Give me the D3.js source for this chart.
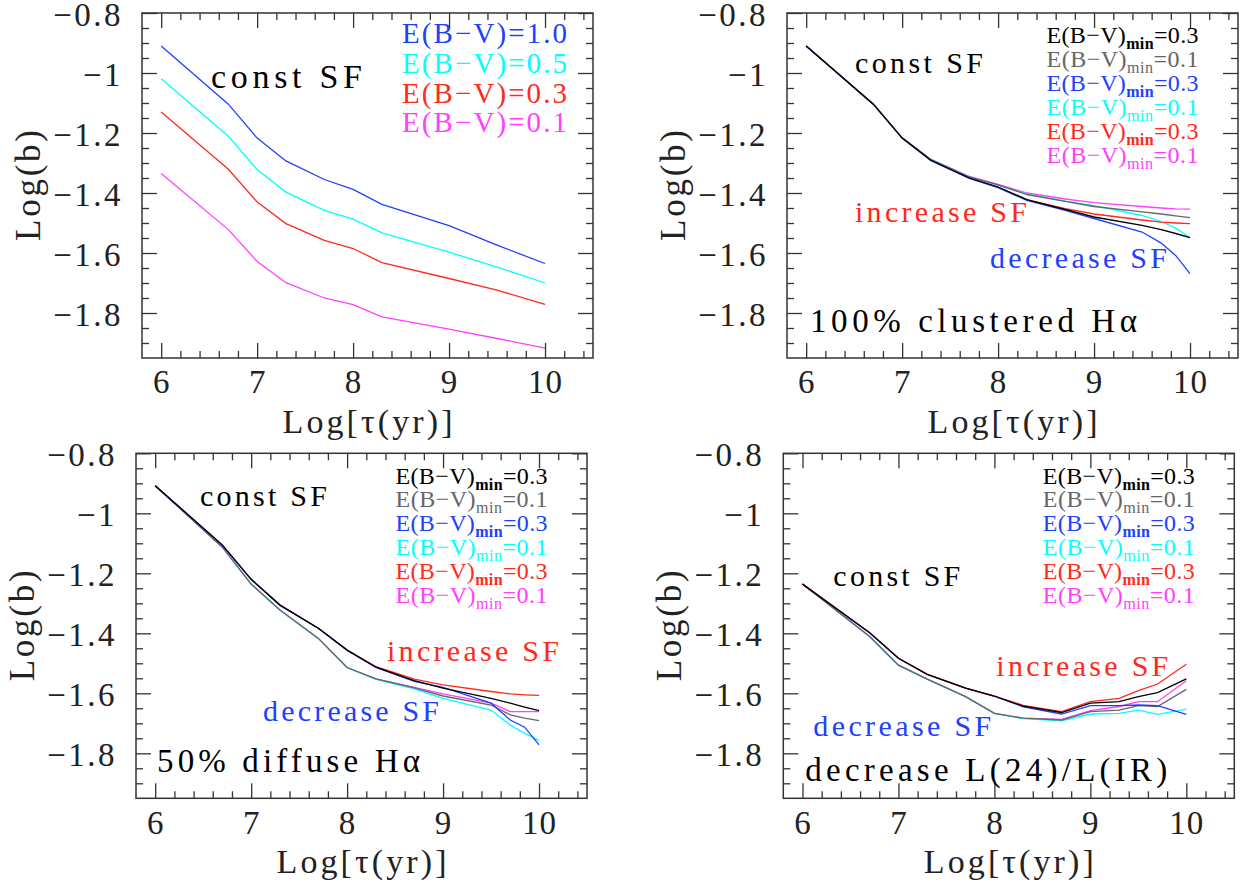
<!DOCTYPE html>
<html>
<head>
<meta charset="utf-8">
<script src="https://cdn.jsdelivr.net/npm/d3@7"></script>
<style>
  body { margin: 0; background: #fff; }
  svg { display: block; }
  text { font-family: "Liberation Serif", "DejaVu Serif", serif; }
</style>
</head>
<body>
<script>

// ---- data ----
var xTicks = [6, 7, 8, 9, 10];
var yTicks = [-0.8, -1, -1.2, -1.4, -1.6, -1.8];

// panel 1: const SF, different E(B-V)
var tauConst = [6, 6.7, 7, 7.3, 7.7, 8, 8.3, 9, 9.5, 10];
var ebv10 = [-0.910, -1.104, -1.217, -1.293, -1.355, -1.388, -1.438, -1.509, -1.574, -1.635];
var ebv05 = [-1.019, -1.211, -1.322, -1.397, -1.458, -1.487, -1.533, -1.597, -1.647, -1.700];
var ebv03 = [-1.130, -1.321, -1.430, -1.502, -1.558, -1.585, -1.632, -1.685, -1.724, -1.771];
var ebv01 = [-1.335, -1.522, -1.628, -1.699, -1.750, -1.772, -1.813, -1.854, -1.885, -1.917];
var ebvLabels = ["E(B\u2212V)=1.0", "E(B\u2212V)=0.5", "E(B\u2212V)=0.3", "E(B\u2212V)=0.1"];

// panel 2: 100% clustered Halpha
var tauClust = [6, 6.7, 7, 7.3, 7.7, 8, 8.3, 8.7, 9, 9.5, 9.7, 9.85, 10];
var clustBlack   = [-0.910, -1.104, -1.217, -1.291, -1.350, -1.380, -1.422, -1.455, -1.480, -1.508, -1.522, -1.535, -1.549];
var clustGray    = [-0.910, -1.104, -1.216, -1.289, -1.346, -1.373, -1.405, -1.428, -1.445, -1.463, -1.470, -1.476, -1.482];
var clustBlue    = [-0.910, -1.104, -1.217, -1.292, -1.351, -1.382, -1.425, -1.458, -1.485, -1.530, -1.567, -1.608, -1.669];
var clustCyan    = [-0.910, -1.104, -1.216, -1.289, -1.347, -1.375, -1.403, -1.427, -1.442, -1.475, -1.495, -1.517, -1.549];
var clustRed     = [-0.910, -1.104, -1.217, -1.291, -1.350, -1.381, -1.423, -1.452, -1.470, -1.490, -1.497, -1.500, -1.502];
var clustMagenta = [-0.910, -1.104, -1.216, -1.288, -1.345, -1.371, -1.400, -1.420, -1.432, -1.445, -1.450, -1.453, -1.454];

// panel 3: 50% diffuse Halpha
var tauDiff = [6, 6.7, 7, 7.3, 7.7, 8, 8.3, 8.7, 9, 9.5, 9.7, 9.85, 10];
var diffBlack   = [-0.908, -1.106, -1.220, -1.306, -1.383, -1.456, -1.513, -1.558, -1.583, -1.617, -1.633, -1.646, -1.658];
var diffGray    = [-0.908, -1.113, -1.236, -1.322, -1.417, -1.514, -1.552, -1.582, -1.609, -1.639, -1.672, -1.683, -1.691];
var diffBlue    = [-0.908, -1.106, -1.220, -1.306, -1.383, -1.456, -1.514, -1.560, -1.580, -1.633, -1.689, -1.713, -1.772];
var diffCyan    = [-0.908, -1.113, -1.236, -1.322, -1.417, -1.515, -1.554, -1.585, -1.617, -1.656, -1.706, -1.733, -1.758];
var diffRed     = [-0.908, -1.106, -1.220, -1.306, -1.383, -1.456, -1.511, -1.553, -1.572, -1.594, -1.602, -1.605, -1.607];
var diffMagenta = [-0.908, -1.113, -1.236, -1.322, -1.417, -1.514, -1.552, -1.580, -1.602, -1.633, -1.661, -1.661, -1.661];

// panel 4: decrease L(24)/L(IR)
var tauIR = [6, 6.7, 7, 7.3, 7.7, 8, 8.3, 8.7, 9, 9.3, 9.5, 9.7, 10];
var irBlack   = [-1.236, -1.398, -1.483, -1.537, -1.583, -1.609, -1.643, -1.664, -1.633, -1.628, -1.611, -1.598, -1.552];
var irGray    = [-1.236, -1.411, -1.506, -1.553, -1.611, -1.667, -1.683, -1.689, -1.661, -1.656, -1.641, -1.644, -1.587];
var irBlue    = [-1.236, -1.398, -1.483, -1.537, -1.583, -1.610, -1.645, -1.669, -1.641, -1.641, -1.639, -1.641, -1.670];
var irCyan    = [-1.236, -1.411, -1.506, -1.553, -1.611, -1.667, -1.684, -1.692, -1.669, -1.667, -1.656, -1.670, -1.653];
var irRed     = [-1.236, -1.398, -1.483, -1.537, -1.583, -1.609, -1.640, -1.661, -1.628, -1.617, -1.591, -1.569, -1.503];
var irMagenta = [-1.236, -1.411, -1.506, -1.553, -1.611, -1.667, -1.683, -1.687, -1.658, -1.644, -1.628, -1.628, -1.558];

var minValues = ["0.3", "0.1", "0.3", "0.1", "0.3", "0.1"];

// colours
var cBlack = "#000000", cGray = "#666666", cBlue = "#2040ff",
    cCyan = "#00ffff", cRed = "#ff2a1a", cMagenta = "#ff40ff";
var minColors = [cBlack, cGray, cBlue, cCyan, cRed, cMagenta];

// ---- layout ----
var W = 1247, H = 884;
var pw = 451, ph = 345;

var svg = d3.select("body").append("svg")
    .attr("width", W)
    .attr("height", H);

var x = d3.scaleLinear().domain([5.8, 10.5]).range([0, pw]);
var y = d3.scaleLinear().domain([-1.95, -0.8]).range([ph, 0]);

var xMinor = d3.range(6.2, 10.45, 0.2).filter(function(d) { return Math.abs(d - Math.round(d)) > 0.01; });
var yMinor = d3.range(-1.9, -0.8, 0.05).filter(function(d) { return Math.abs(d * 5 - Math.round(d * 5)) > 0.01; });

function series(tau, vals, color) {
    return { color: color, pts: tau.map(function(t, i) { return [t, vals[i]]; }) };
}

var panels = [
    {
        left: 142, top: 13,
        lines: [series(tauConst, ebv01, cMagenta), series(tauConst, ebv03, cRed),
                series(tauConst, ebv05, cCyan), series(tauConst, ebv10, cBlue)],
        notes: [{ t: "const  SF", x: 69, y: 75, c: cBlack, s: 34, w: 151 }],
        legend: "ebv"
    },
    {
        left: 787, top: 13,
        lines: [series(tauClust, clustMagenta, cMagenta), series(tauClust, clustCyan, cCyan),
                series(tauClust, clustRed, cRed), series(tauClust, clustBlue, cBlue),
                series(tauClust, clustGray, cGray), series(tauClust, clustBlack, cBlack)],
        notes: [
            { t: "const  SF", x: 68, y: 60, c: cBlack, s: 30, w: 128 },
            { t: "increase  SF", x: 68, y: 209, c: cRed, s: 30, w: 172 },
            { t: "decrease  SF", x: 203, y: 255, c: cBlue, s: 30, w: 177 },
            { t: "100%  clustered  H\u03b1", x: 23, y: 319, c: cBlack, s: 33, w: 327 }
        ],
        legend: "min"
    },
    {
        left: 136, top: 453.3,
        lines: [series(tauDiff, diffMagenta, cMagenta), series(tauDiff, diffCyan, cCyan),
                series(tauDiff, diffGray, cGray), series(tauDiff, diffRed, cRed),
                series(tauDiff, diffBlue, cBlue), series(tauDiff, diffBlack, cBlack)],
        notes: [
            { t: "const  SF", x: 64, y: 53, c: cBlack, s: 30, w: 127 },
            { t: "increase  SF", x: 251, y: 208, c: cRed, s: 30, w: 172 },
            { t: "decrease  SF", x: 127, y: 268, c: cBlue, s: 30, w: 176 },
            { t: "50%  diffuse  H\u03b1", x: 21, y: 319, c: cBlack, s: 33, w: 263 }
        ],
        legend: "min"
    },
    {
        left: 783.3, top: 453.3,
        lines: [series(tauIR, irMagenta, cMagenta), series(tauIR, irCyan, cCyan),
                series(tauIR, irGray, cGray), series(tauIR, irBlue, cBlue),
                series(tauIR, irRed, cRed), series(tauIR, irBlack, cBlack)],
        notes: [
            { t: "const  SF", x: 50, y: 133, c: cBlack, s: 30, w: 127 },
            { t: "increase  SF", x: 213, y: 223, c: cRed, s: 30, w: 172 },
            { t: "decrease  SF", x: 30, y: 283, c: cBlue, s: 30, w: 178 },
            { t: "decrease  L(24)/L(IR)", x: 22, y: 328, c: cBlack, s: 33, w: 362 }
        ],
        legend: "min"
    }
];

var line = d3.line()
    .x(function(d) { return x(d[0]); })
    .y(function(d) { return y(d[1]); });

panels.forEach(function(p) {
    var g = svg.append("g").attr("transform", "translate(" + p.left + "," + p.top + ")");

    // data lines
    p.lines.forEach(function(s) {
        g.append("path")
            .attr("d", line(s.pts))
            .attr("fill", "none")
            .attr("stroke", s.color)
            .attr("stroke-width", 1.3);
    });

    // inward ticks on all four sides
    function ticks(axis, tr, vals, size) {
        g.append("g")
            .attr("transform", tr)
            .call(axis.tickValues(vals).tickSize(size).tickFormat(""))
            .call(function(a) {
                a.select(".domain").remove();
                a.selectAll("line").attr("stroke", "#333").attr("stroke-width", 1.3);
            });
    }
    ticks(d3.axisTop(x), "translate(0," + ph + ")", xTicks, 15);
    ticks(d3.axisTop(x), "translate(0," + ph + ")", xMinor, 7);
    ticks(d3.axisBottom(x), "translate(0,0)", xTicks, 15);
    ticks(d3.axisBottom(x), "translate(0,0)", xMinor, 7);
    ticks(d3.axisRight(y), "translate(0,0)", yTicks, 15);
    ticks(d3.axisRight(y), "translate(0,0)", yMinor, 7);
    ticks(d3.axisLeft(y), "translate(" + pw + ",0)", yTicks, 15);
    ticks(d3.axisLeft(y), "translate(" + pw + ",0)", yMinor, 7);

    // frame
    g.append("rect")
        .attr("width", pw).attr("height", ph)
        .attr("fill", "none")
        .attr("stroke", "#333")
        .attr("stroke-width", 1.5);

    // tick labels
    g.append("g")
        .attr("transform", "translate(0," + ph + ")")
        .call(d3.axisBottom(x).tickValues(xTicks).tickSize(0).tickPadding(12).tickFormat(d3.format("~g")))
        .call(function(a) {
            a.select(".domain").remove();
            a.selectAll("text").attr("font-size", 33).attr("fill", "#222")
                .attr("letter-spacing", 1);
        });
    g.append("g")
        .call(d3.axisLeft(y).tickValues(yTicks).tickSize(0).tickPadding(19).tickFormat(d3.format("~g")))
        .call(function(a) {
            a.select(".domain").remove();
            a.selectAll("text").attr("font-size", 33).attr("fill", "#222")
                .attr("dy", "0.37em")
                .attr("letter-spacing", 2.5);
        });

    // axis titles
    g.append("text")
        .attr("x", pw / 2).attr("y", ph + 75)
        .attr("text-anchor", "middle")
        .attr("font-size", 34)
        .attr("textLength", 170).attr("lengthAdjust", "spacing")
        .attr("fill", "#222")
        .text("Log[\u03c4(yr)]");
    g.append("text")
        .attr("transform", "translate(-102," + (ph / 2) + ") rotate(-90)")
        .attr("text-anchor", "middle")
        .attr("font-size", 35)
        .attr("textLength", 111).attr("lengthAdjust", "spacing")
        .attr("fill", "#222")
        .text("Log(b)");

    // annotations
    p.notes.forEach(function(n) {
        g.append("text")
            .attr("x", n.x).attr("y", n.y)
            .attr("font-size", n.s)
            .attr("fill", n.c)
            .attr("textLength", n.w).attr("lengthAdjust", "spacing")
            .text(n.t);
    });

    // legends
    if (p.legend === "ebv") {
        var ebvColors = [cBlue, cCyan, cRed, cMagenta];
        ebvLabels.forEach(function(l, i) {
            g.append("text")
                .attr("x", 425).attr("y", 30 + i * 29.8)
                .attr("text-anchor", "end")
                .attr("font-size", 29)
                .attr("fill", ebvColors[i])
                .attr("textLength", 165).attr("lengthAdjust", "spacing")
                .text(l);
        });
    } else {
        minValues.forEach(function(v, i) {
            var t = g.append("text")
                .attr("x", 411.5).attr("y", 30.3 + i * 23.9)
                .attr("text-anchor", "end")
                .attr("font-size", 24)
                .attr("fill", minColors[i])
                .attr("textLength", 152).attr("lengthAdjust", "spacing");
            t.append("tspan").text("E(B\u2212V)");
            t.append("tspan")
                .attr("dy", 6)
                .attr("font-size", 16)
                .attr("font-weight", i % 2 === 0 ? "bold" : "normal")
                .text("min");
            t.append("tspan").attr("dy", -6).text("=" + v);
        });
    }
});

</script>
</body>
</html>
